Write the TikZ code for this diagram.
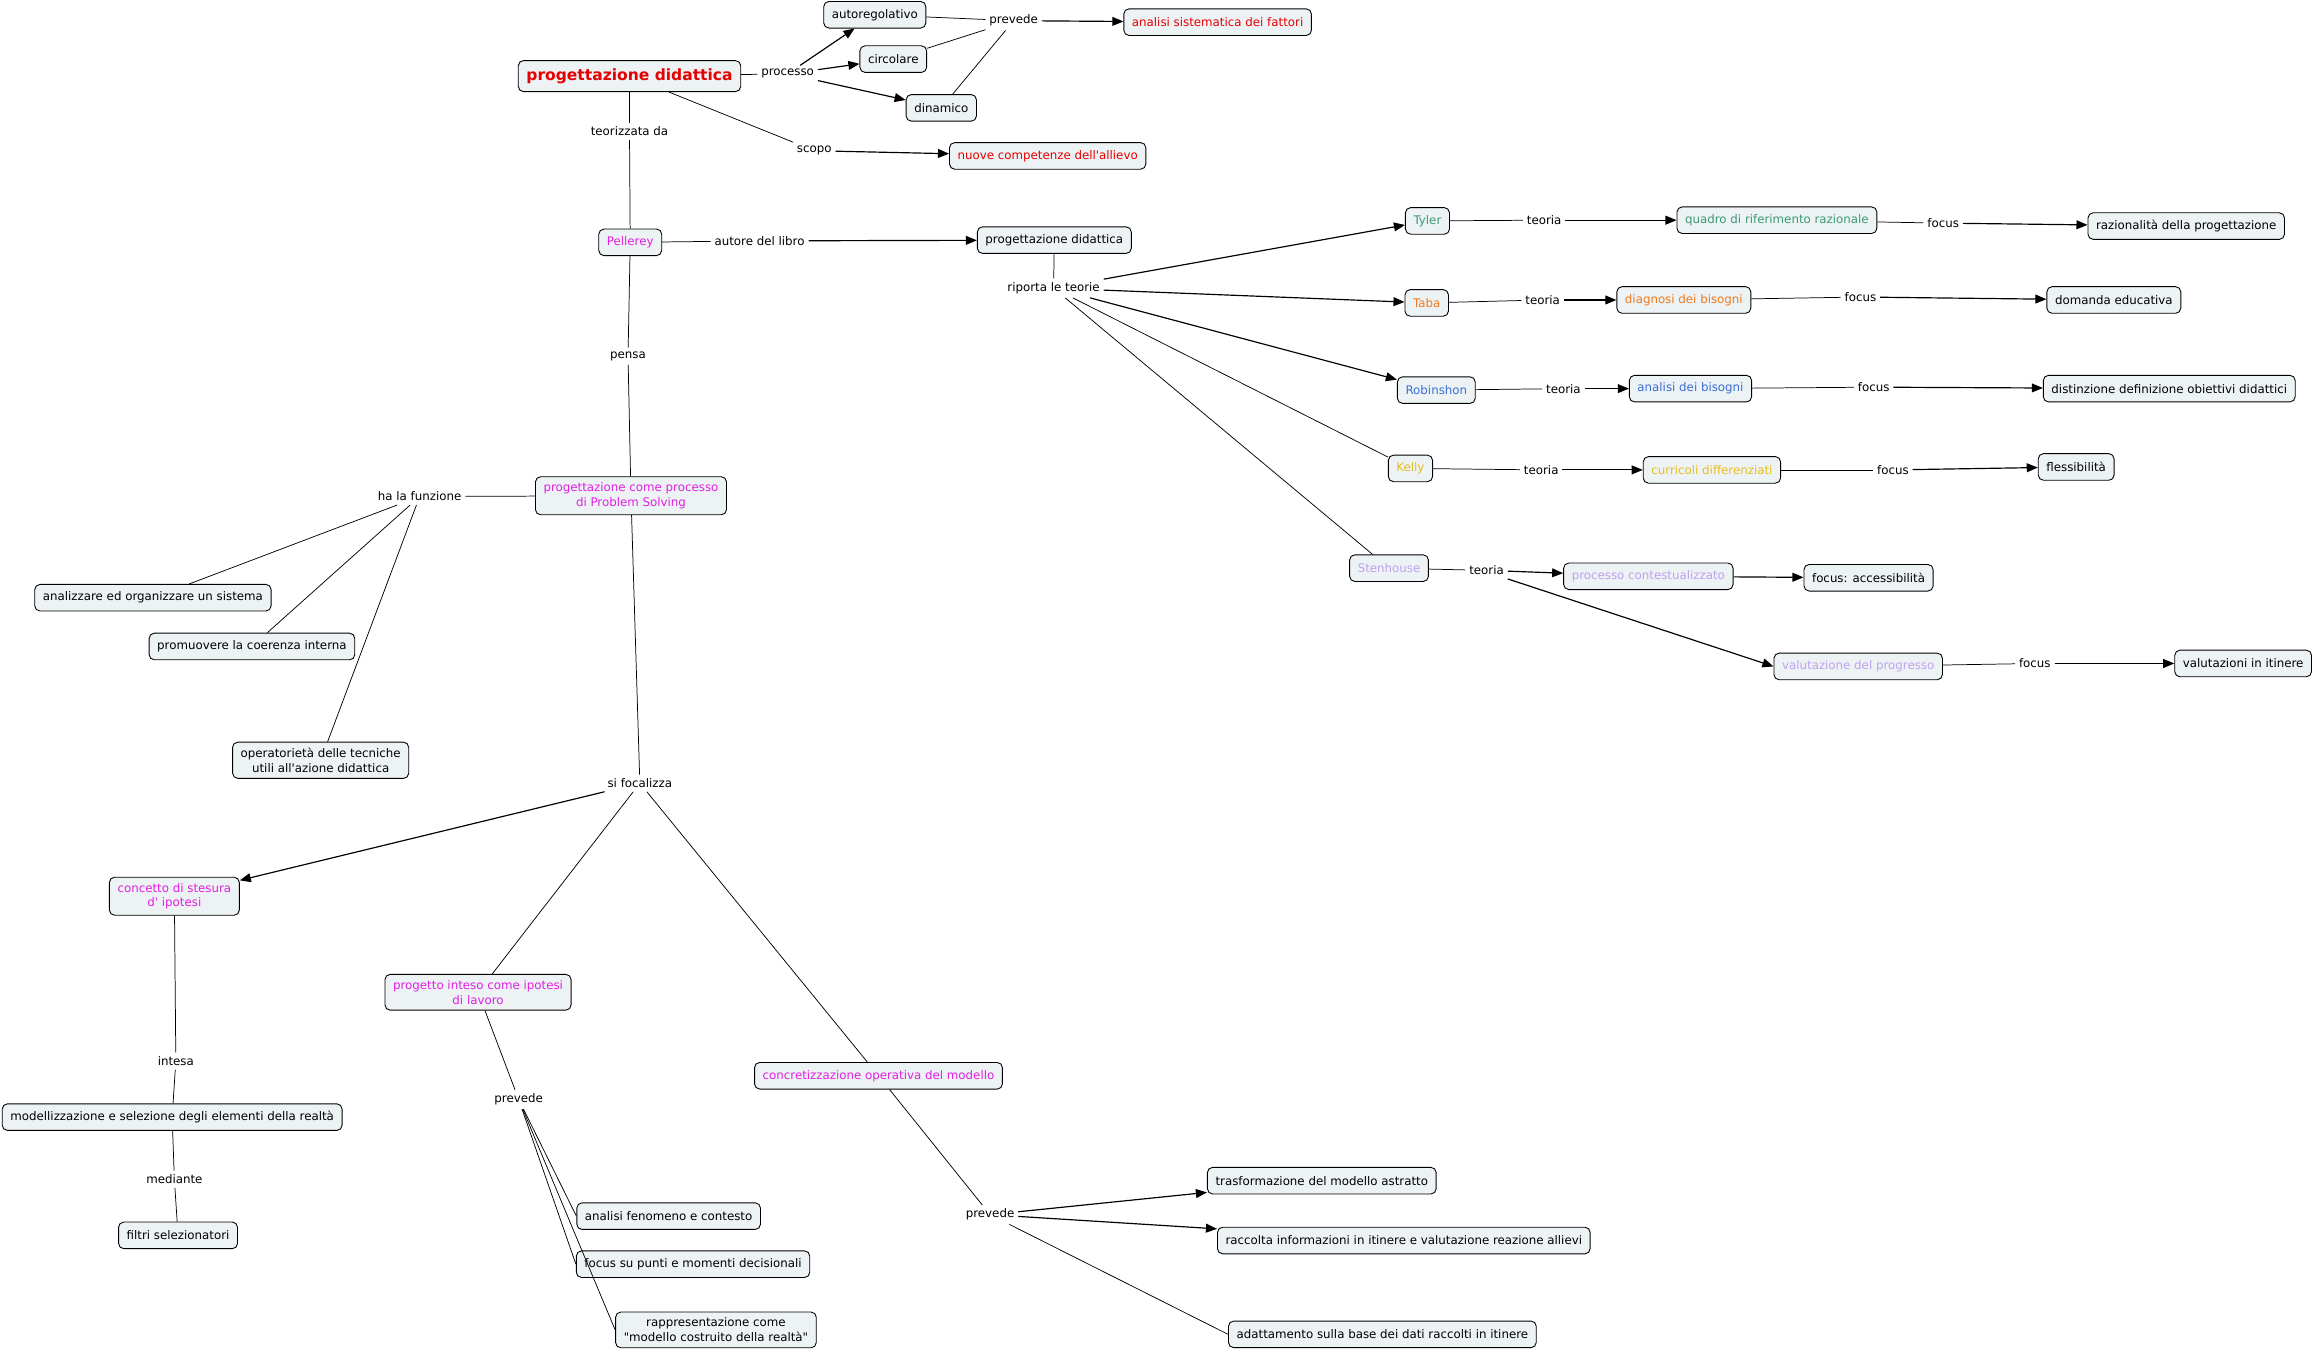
\documentclass[tikz,border=0pt]{standalone}
\usepackage{fontspec}
\setmainfont{DejaVu Sans}
\newfontfamily\dvplain{DejaVu Sans}
\usetikzlibrary{arrows.meta}
\definecolor{boxfill}{HTML}{EDF2F4}
\definecolor{cred}{HTML}{E60000}
\definecolor{cmag}{HTML}{E21FE2}
\definecolor{cgreen}{HTML}{3C9A72}
\definecolor{corange}{HTML}{F07A1E}
\definecolor{cblue}{HTML}{3A6ED6}
\definecolor{cyellow}{HTML}{E8BE1C}
\definecolor{clav}{HTML}{BFA2F0}
\begin{document}
\begin{tikzpicture}[x=1pt,y=-1pt,
  every node/.style={font=\dvplain\fontsize{8}{10}\selectfont},
  box/.style={draw, line width=0.6pt, rounded corners=3.5pt, fill=boxfill,
    inner xsep=5.5pt, inner ysep=4pt, minimum height=18pt, align=center},
  lab/.style={inner sep=2.5pt},
  ln/.style={line width=0.5pt},
  arr/.style={line width=0.8pt, -{Triangle[length=7.5pt,width=6pt]}},
]
\useasboundingbox (0,0) rectangle (1568,915);

% top
\node[box, font=\dvplain\bfseries\fontsize{10.5}{12}\selectfont, text=cred, minimum height=21pt] (pd) at (426,51.5) {progettazione didattica};
\node[lab] (proc) at (533,50) {processo};
\node[box] (auto) at (592,10) {autoregolativo};
\node[box] (circ) at (604.5,40) {circolare};
\node[box] (dina) at (637,73) {dinamico};
\node[lab] (prev0) at (686,14) {prevede};
\node[box, text=cred] (anal) at (824,15) {analisi sistematica dei fattori};
\node[lab] (teor) at (426,89) {teorizzata da};
\node[lab] (scopo) at (551,102) {scopo};
\node[box, text=cred] (nuove) at (709,105.5) {nuove competenze dell'allievo};

% middle left
\node[box, text=cmag] (pell) at (426.5,164) {Pellerey};
\node[lab] (autl) at (514,163) {autore del libro};
\node[box] (book) at (713.5,162.5) {progettazione didattica};
\node[lab] (ripo) at (713,195) {riporta le teorie};
\node[lab] (pensa) at (425,241) {pensa};
\node[box, text=cmag] (ps) at (427,335.5) {progettazione come processo\\di Problem Solving};
\node[lab] (hafu) at (284,336) {ha la funzione};
\node[box] (an1) at (103.5,404.5) {analizzare ed organizzare un sistema};
\node[box] (pr1) at (170.5,437.5) {promuovere la coerenza interna};
\node[box] (op1) at (217,514.5) {operatorietà delle tecniche\\utili all'azione didattica};
\node[lab] (sifo) at (433,530) {si focalizza};
\node[box, text=cmag] (conc) at (118,606.5) {concetto di stesura\\d' ipotesi};
\node[lab] (intesa) at (119,718) {intesa};
\node[box] (mode) at (116.5,756) {modellizzazione e selezione degli elementi della realtà};
\node[lab] (medi) at (118,798) {mediante};
\node[box] (filt) at (120.5,836) {filtri selezionatori};
\node[box, text=cmag] (prog) at (323.5,671.5) {progetto inteso come ipotesi\\di lavoro};
\node[lab] (prev1) at (351,744) {prevede};
\node[box] (anfe) at (452.5,823) {analisi fenomeno e contesto};
\node[box] (fopu) at (469,855.5) {focus su punti e momenti decisionali};
\node[box] (rapp) at (484.5,900) {rappresentazione come\\"modello costruito della realtà"};
\node[box, text=cmag] (cope) at (594.5,728) {concretizzazione operativa del modello};
\node[lab] (prev2) at (670,822) {prevede};
\node[box] (tras) at (894.5,799) {trasformazione del modello astratto};
\node[box] (racc) at (950,839.5) {raccolta informazioni in itinere e valutazione reazione allievi};
\node[box] (adat) at (935.5,903) {adattamento sulla base dei dati raccolti in itinere};

% right
\node[box, text=cgreen] (tyl) at (966,149.5) {Tyler};
\node[lab] (t1) at (1045,149) {teoria};
\node[box, text=cgreen] (quad) at (1202.5,149) {quadro di riferimento razionale};
\node[lab] (f1) at (1315,151) {focus};
\node[box] (razi) at (1479.5,153) {razionalità della progettazione};
\node[box, text=corange] (taba) at (965.5,205) {Taba};
\node[lab] (t2) at (1044,203) {teoria};
\node[box, text=corange] (diag) at (1139.5,203) {diagnosi dei bisogni};
\node[lab] (f2) at (1259,201) {focus};
\node[box] (doma) at (1430.5,203) {domanda educativa};
\node[box, text=cblue] (robi) at (972,264) {Robinshon};
\node[lab] (t3) at (1058,263) {teoria};
\node[box, text=cblue] (anbi) at (1144,263) {analisi dei bisogni};
\node[lab] (f3) at (1268,262) {focus};
\node[box] (dist) at (1468,263) {distinzione definizione obiettivi didattici};
\node[box, text=cyellow] (kell) at (954.5,317) {Kelly};
\node[lab] (t4) at (1043,318) {teoria};
\node[box, text=cyellow] (curr) at (1158.5,318) {curricoli differenziati};
\node[lab] (f4) at (1281,318) {focus};
\node[box] (fles) at (1405,316) {flessibilità};
\node[box, text=clav] (sten) at (940,384.5) {Stenhouse};
\node[lab] (t5) at (1006,386) {teoria};
\node[box, text=clav] (proc2) at (1115.5,390) {processo contestualizzato};
\node[box] (facc) at (1264.5,391) {focus: accessibilità};
\node[box, text=clav] (valu) at (1257.5,451) {valutazione del progresso};
\node[lab] (f5) at (1377,449) {focus};
\node[box] (vali) at (1518,449) {valutazioni in itinere};

% connectors top
\draw[ln] (pd) -- (proc);
\draw[arr] (proc) -- (auto);
\draw[arr] (proc) -- (circ);
\draw[arr] (proc) -- (dina);
\draw[ln] (auto) -- (prev0);
\draw[ln] (circ) -- (prev0);
\draw[ln] (dina) -- (prev0);
\draw[arr] (prev0) -- (anal);
\draw[ln] (pd) -- (teor);
\draw[ln] (teor) -- (pell);
\draw[ln] (pd) -- (scopo);
\draw[arr] (scopo) -- (nuove);

% connectors left
\draw[ln] (pell) -- (autl);
\draw[arr] (autl) -- (book);
\draw[ln] (book) -- (ripo);
\draw[ln] (pell) -- (pensa);
\draw[ln] (pensa) -- (ps);
\draw[ln] (ps) -- (hafu);
\draw[ln] (hafu) -- (an1);
\draw[ln] (hafu) -- (pr1);
\draw[ln] (hafu) -- (op1);
\draw[ln] (ps) -- (sifo);
\draw[arr] (sifo) -- (conc);
\draw[ln] (sifo) -- (prog);
\draw[ln] (sifo) -- (cope);
\draw[ln] (conc) -- (intesa);
\draw[ln] (intesa) -- (mode);
\draw[ln] (mode) -- (medi);
\draw[ln] (medi) -- (filt);
\draw[ln] (prog) -- (prev1);
\draw[ln] (prev1) -- (anfe.west);
\draw[ln] (prev1) -- (fopu.west);
\draw[ln] (prev1) -- (rapp.west);
\draw[ln] (cope) -- (prev2);
\draw[arr] (prev2) -- (tras);
\draw[arr] (prev2) -- (racc);
\draw[ln] (prev2) -- (adat.west);

% connectors right
\draw[arr] (ripo) -- (tyl);
\draw[arr] (ripo) -- (taba);
\draw[arr] (ripo) -- (robi);
\draw[ln] (ripo) -- (kell);
\draw[ln] (ripo) -- (sten);
\draw[ln] (tyl) -- (t1);
\draw[arr] (t1) -- (quad);
\draw[ln] (quad) -- (f1);
\draw[arr] (f1) -- (razi);
\draw[ln] (taba) -- (t2);
\draw[arr] (t2) -- (diag);
\draw[ln] (diag) -- (f2);
\draw[arr] (f2) -- (doma);
\draw[ln] (robi) -- (t3);
\draw[arr] (t3) -- (anbi);
\draw[ln] (anbi) -- (f3);
\draw[arr] (f3) -- (dist);
\draw[ln] (kell) -- (t4);
\draw[arr] (t4) -- (curr);
\draw[ln] (curr) -- (f4);
\draw[arr] (f4) -- (fles);
\draw[ln] (sten) -- (t5);
\draw[arr] (t5) -- (proc2);
\draw[arr] (t5.south east) -- (valu.west);
\draw[arr] (proc2) -- (facc);
\draw[ln] (valu) -- (f5);
\draw[arr] (f5) -- (vali);
\end{tikzpicture}
\end{document}
